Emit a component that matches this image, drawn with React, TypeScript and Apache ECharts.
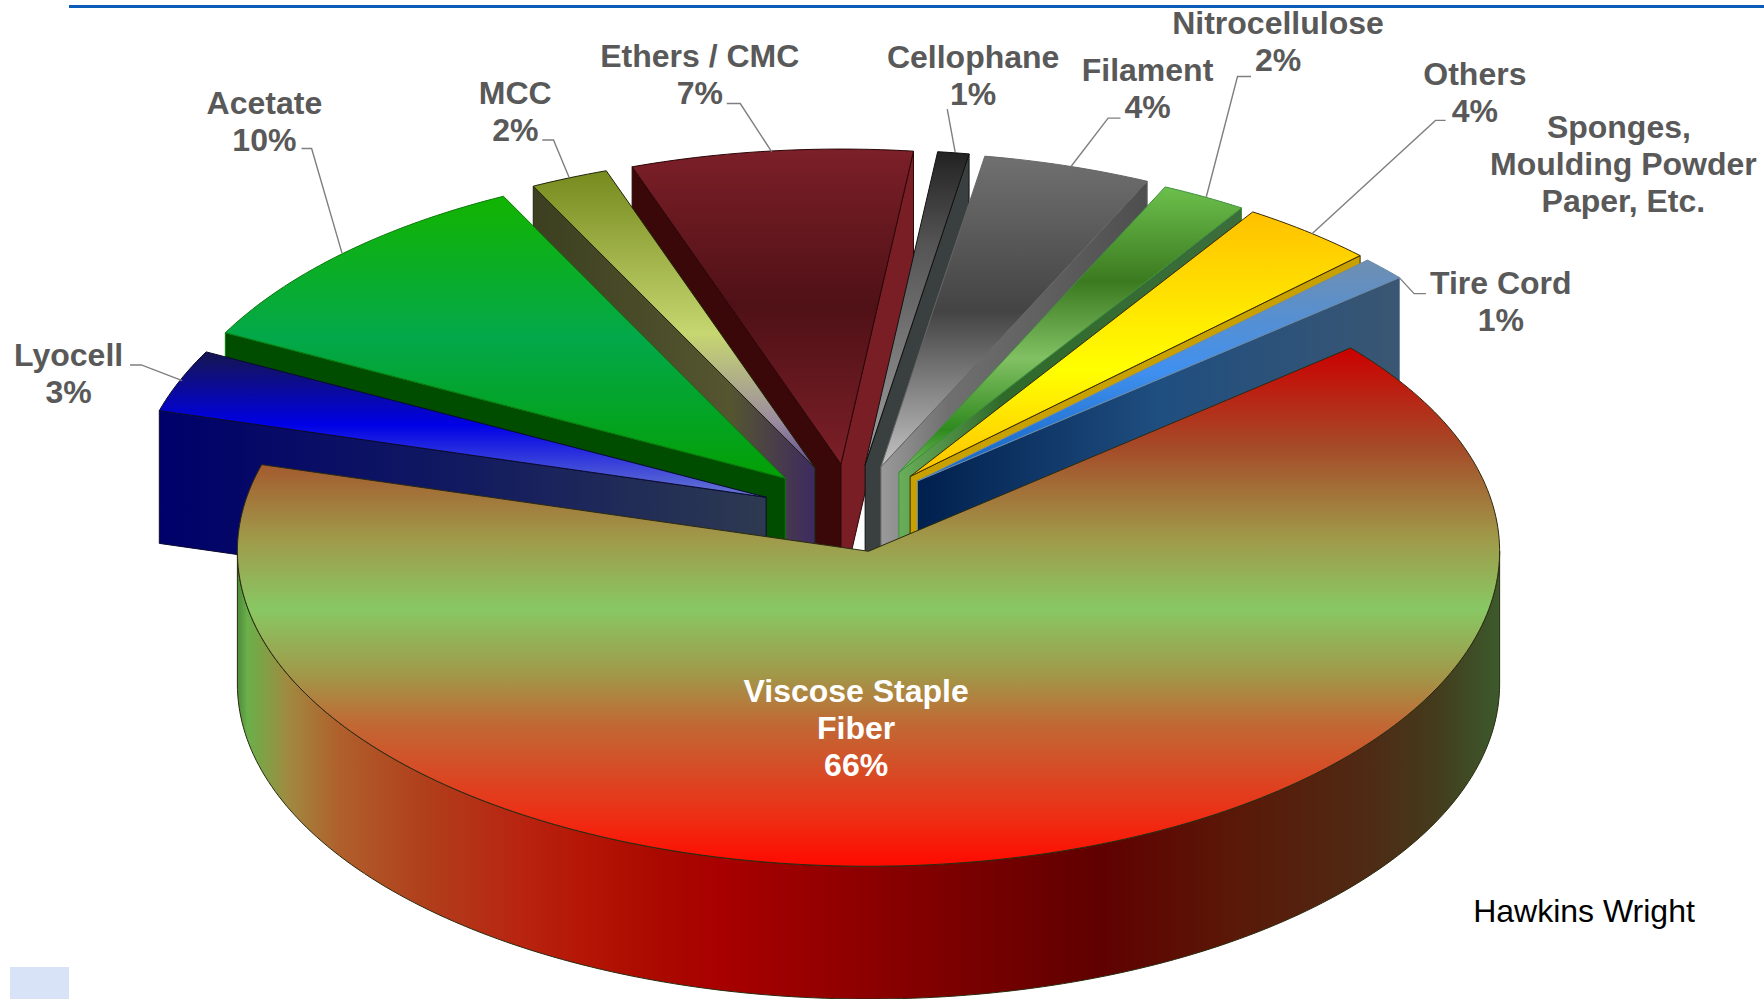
import React, { useEffect, useRef } from "react";
import * as echarts from "echarts";

const WIDTH = 1764;
const HEIGHT = 999;
const K = 1.125; // measured layout units to page pixels

// ---- data (clockwise from Viscose) ----
const sliceNames = ["Viscose Staple Fiber", "Lyocell", "Acetate", "MCC", "Ethers / CMC", "Cellophane", "Filament", "Nitrocellulose", "Others", "Tire Cord"];
const sliceValues = [65.6, 3.2, 10, 2, 7.2, 0.8, 4.3, 2.2, 3.5, 1.2];

// ---- layout ----
const START_ANGLE = 49.8;
const CX = 772 * K;
const CY = 490 * K;
const RX = 561 * K;
const RY = 280 * K;
const DEPTH = 118 * K;
const explodeOffsets = [
  [0, 0], [-91, -48], [-74, -65], [-47.5, -74], [-24.5, -77.5], [-3, -77], [11, -75], [27, -70], [37, -66.5], [43.5, -62.5],
];
const paintOrder = [4, 3, 5, 6, 2, 7, 8, 1, 9, 0];

type Stops = [number, string][];
const grad = (dir: "v" | "h", stops: Stops) =>
  new echarts.graphic.LinearGradient(0, 0, dir === "h" ? 1 : 0, dir === "v" ? 1 : 0, stops.map(([offset, color]) => ({ offset, color })));

const topFills: Stops[] = [
  [[0, "#cc0000"], [0.19, "#a54a28"], [0.368, "#a09a4a"], [0.504, "#88c864"], [0.626, "#a09a4a"], [0.723, "#c06a35"], [0.82, "#d84a25"], [0.917, "#f02a12"], [1, "#ff0a00"]],
  [[0, "#15154e"], [0.5, "#0000e6"], [1, "#6a7ad0"]],
  [[0, "#12b400"], [0.5, "#03a84a"], [1, "#04a005"]],
  [[0, "#768a1e"], [0.55, "#c6d670"], [0.85, "#9a8aa0"], [1, "#5a4a90"]],
  [[0, "#7c1f28"], [0.5, "#4f1116"], [1, "#7c1f28"]],
  [[0, "#222222"], [0.3, "#555555"], [1, "#a0a0a0"]],
  [[0, "#707070"], [0.5, "#444444"], [1, "#c4c4c4"]],
  [[0, "#6cc04c"], [0.33, "#3c7a20"], [0.6, "#82c064"], [0.85, "#2f8a1e"], [1, "#7ac060"]],
  [[0, "#ffc000"], [0.6, "#ffff00"], [1, "#ffc000"]],
  [[0, "#6f8fb0"], [0.5, "#4090f0"], [1, "#1060c0"]],
];
const wallFills: (string | Stops)[] = [
  [[0, "#4e8a3a"], [0.008, "#6ab04a"], [0.04, "#a08a40"], [0.08, "#b0602c"], [0.145, "#b0401c"], [0.224, "#b82410"], [0.277, "#b51505"], [0.33, "#aa0a00"], [0.382, "#a80000"], [0.5, "#8c0000"], [0.683, "#600000"], [0.789, "#5a1808"], [0.895, "#4f2a14"], [0.947, "#443a1c"], [1, "#3c5a2c"]],
  [[0, "#00006a"], [0.5, "#121a60"], [1, "#2d3a50"]],
  "#004d00",
  [[0, "#3c4020"], [0.7, "#555530"], [1, "#3e2a60"]],
  "#3a0808",
  "#3a4040",
  [[0, "#9a9a9a"], [0.25, "#707070"], [1, "#4e4e4e"]],
  [[0, "#6aae5a"], [0.3, "#2f6a2a"], [1, "#3c6e3c"]],
  "#c8a000",
  [[0, "#00204e"], [0.5, "#1f4e80"], [1, "#3a5672"]],
];
const endWallFills: Record<number, string> = { 4: "#7a1e26", 5: "#3a4040" };
const edgeColors = ["#2a2a10", "#0a0a30", "#0a7a0a", "#20240a", "#2a0608", "#111111", "#666666", "#3f8f3f", "#3a2a00", "#6a8aa8"];

// ---- text ----
type Lbl = { lines: string[]; pct?: number; x: number; y: number; fill?: string };
const labels: Lbl[] = [
  { lines: ["Acetate"], pct: 2, x: 235, y: 91.5 },
  { lines: ["MCC"], pct: 3, x: 458, y: 83 },
  { lines: ["Ethers / CMC"], pct: 4, x: 622, y: 50 },
  { lines: ["Cellophane"], pct: 5, x: 865, y: 50.5 },
  { lines: ["Filament"], pct: 6, x: 1020, y: 62.5 },
  { lines: ["Nitrocellulose"], pct: 7, x: 1136, y: 20.5 },
  { lines: ["Others"], pct: 8, x: 1311, y: 65.5 },
  { lines: ["Sponges,"], x: 1439, y: 112.5 },
  { lines: ["Moulding Powder", "Paper, Etc."], x: 1443, y: 145.5 },
  { lines: ["Tire Cord"], pct: 9, x: 1334, y: 251.5 },
  { lines: ["Lyocell"], pct: 1, x: 61, y: 315.5 },
  { lines: ["Viscose Staple", "Fiber"], pct: 0, x: 761, y: 614.5, fill: "#ffffff" },
];
const leaders: number[][][] = [
  [[268, 132], [277, 132], [304, 225]],
  [[482, 124.4], [492, 124.4], [506, 158]],
  [[646, 92], [658, 92], [686, 135]],
  [[842, 97], [849, 135]],
  [[996, 105], [985, 105], [952, 148]],
  [[1112, 68], [1100, 68], [1072, 176]],
  [[1285, 107], [1276, 107], [1166, 208]],
  [[1267.5, 261], [1257, 261], [1244, 247]],
  [[115.6, 324.4], [125.6, 324.4], [162, 338.4]],
];

const rad = (d: number) => (d * Math.PI) / 180;
const bounds: number[][] = (() => {
  const out: number[][] = [];
  let a = START_ANGLE;
  const total = sliceValues.reduce((s, v) => s + v, 0);
  sliceValues.forEach((v) => {
    const e = a + (v / total) * 360;
    out.push([a, e]);
    a = e;
  });
  return out;
})();

function renderItem(_params: any, api: any) {
  const idx = api.value(1) as number;
  const [s, e] = bounds[idx];
  const [ox, oy] = explodeOffsets[idx];
  const p = (deg: number) => api.coord([Math.sin(rad(deg)) + (ox * K) / RX, Math.cos(rad(deg)) - (oy * K) / RY]) as number[];
  const apex = api.coord([(ox * K) / RX, -(oy * K) / RY]) as number[];
  const down = (q: number[]) => [q[0], q[1] + DEPTH];
  const arc = (a: number, b: number) => {
    const pts: number[][] = [];
    const n = Math.max(2, Math.ceil(Math.abs(b - a)));
    for (let i = 0; i <= n; i++) pts.push(p(a + ((b - a) * i) / n));
    return pts;
  };
  const fillOf = (f: string | Stops) => (typeof f === "string" ? f : grad("h", f));
  const edge = edgeColors[idx];
  const children: any[] = [];
  const poly = (points: number[][], fill: any, lineWidth = 1) =>
    children.push({ type: "polygon", shape: { points }, style: { fill, stroke: edge, lineWidth } });

  if (Math.sin(rad(s)) < 0 && idx !== 0) {
    const r = p(s);
    poly([r, apex, down(apex), down(r)], fillOf(wallFills[idx]));
  }
  if (Math.sin(rad(e)) > 0 && idx !== 0) {
    const r = p(e);
    poly([r, apex, down(apex), down(r)], fillOf(endWallFills[idx] ?? wallFills[idx]));
  }
  if (idx === 0) {
    const front = arc(90, 270);
    poly([...front, ...front.slice().reverse().map(down)], fillOf(wallFills[0]));
  }
  poly([apex, ...arc(s, e)], grad("v", topFills[idx]));
  return { type: "group", children };
}

const px = (v: number) => v * K;

function buildGraphic() {
  const font = "bold 32px 'Liberation Sans', Arial, sans-serif";
  const els: any[] = [
    { type: "rect", z: 100, shape: { x: 69, y: 5, width: WIDTH - 69, height: 3 }, style: { fill: "#0b5cb8" } },
    { type: "rect", z: 100, shape: { x: 10, y: 967, width: 59, height: 32 }, style: { fill: "#d9e3f7" } },
  ];
  leaders.forEach((pts) => {
    els.push({ type: "polyline", z: 100, shape: { points: pts.map(([x, y]) => [px(x), px(y)]) }, style: { fill: "none", stroke: "#7f7f7f", lineWidth: 1.4 } });
  });
  labels.forEach((l) => {
    const lines = l.pct === undefined ? l.lines : [...l.lines, `${Math.round(sliceValues[l.pct])}%`];
    lines.forEach((t, i) => {
      els.push({
        type: "text", z: 101, x: px(l.x), y: px(l.y + i * 32.8),
        style: { text: t, font, fill: l.fill ?? "#595959", textAlign: "center", textVerticalAlign: "middle" },
      });
    });
  });
  els.push({
    type: "text", z: 101, x: px(1408), y: px(810),
    style: { text: "Hawkins Wright", font: "32px 'Liberation Sans', Arial, sans-serif", fill: "#000000", textAlign: "center", textVerticalAlign: "middle" },
  });
  return els;
}

export default function App() {
  const ref = useRef<HTMLDivElement>(null);
  useEffect(() => {
    document.body.style.margin = "0";
    document.body.style.background = "#ffffff";
    const chart = echarts.init(ref.current!, undefined, { renderer: "svg" });
    chart.setOption({
      animation: false,
      backgroundColor: "#ffffff",
      grid: { left: 0, top: 0, width: WIDTH, height: HEIGHT, containLabel: false },
      xAxis: { type: "value", show: false, min: -CX / RX, max: (WIDTH - CX) / RX, scale: true },
      yAxis: { type: "value", show: false, min: (CY - HEIGHT) / RY, max: CY / RY, scale: true },
      series: [
        {
          type: "custom",
          coordinateSystem: "cartesian2d",
          renderItem,
          clip: false,
          silent: true,
          encode: { x: 0, y: 1 },
          data: paintOrder.map((i) => ({ name: sliceNames[i], value: [sliceValues[i], i] })),
        },
      ],
      graphic: { elements: buildGraphic() },
    });
    return () => chart.dispose();
  }, []);
  return <div ref={ref} style={{ position: "absolute", left: 0, top: 0, width: WIDTH, height: HEIGHT, overflow: "hidden" }} />;
}
